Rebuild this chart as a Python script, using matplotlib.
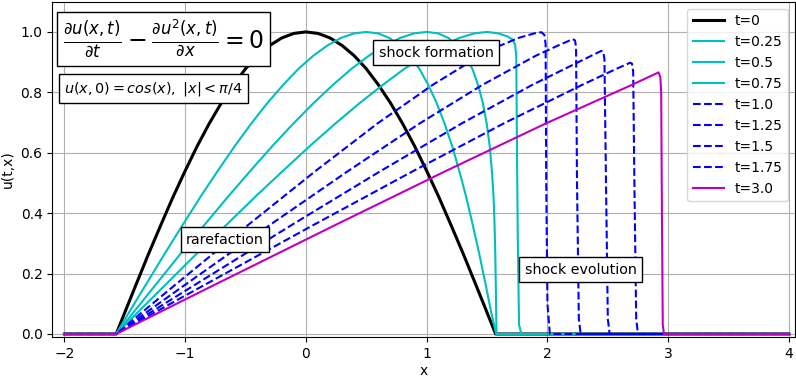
import matplotlib
matplotlib.use("Agg")
import matplotlib.pyplot as plt

# Values (profiles of u(t,x) at each time)
LABELS = ["t=0", "t=0.25", "t=0.5", "t=0.75", "t=1.0", "t=1.25", "t=1.5", "t=1.75", "t=3.0"]
COLORS = ["k", "c", "c", "c", "b", "b", "b", "b", "m"]
STYLES = ["-", "-", "-", "-", "--", "--", "--", "--", "-"]
WIDTHS = [2.2, 1.5, 1.5, 1.5, 1.5, 1.5, 1.5, 1.5, 1.5]

x_t0 = [-2.0, -1.571, -1.5, -1.4, -1.3, -1.2, -1.1, -1.0, -0.9, -0.8, -0.7, -0.6, -0.5, -0.4,
        -0.3, -0.2, -0.1, 0.0, 0.1, 0.2, 0.3, 0.4, 0.5, 0.6, 0.7, 0.8, 0.9, 1.0, 1.1, 1.2,
        1.3, 1.4, 1.5, 1.571, 4.0]
u_t0 = [0.0, 0.0, 0.071, 0.170, 0.268, 0.362, 0.454, 0.540, 0.622, 0.697, 0.765, 0.825, 0.878,
        0.921, 0.955, 0.980, 0.995, 1.0, 0.995, 0.980, 0.955, 0.921, 0.878, 0.825, 0.765,
        0.697, 0.622, 0.540, 0.454, 0.362, 0.268, 0.170, 0.071, 0.0, 0.0]

x_t025 = [-2.0, -1.571, -1.465, -1.315, -1.166, -1.019, -0.873, -0.730, -0.589, -0.452, -0.318,
          -0.187, -0.061, 0.061, 0.178, 0.290, 0.398, 0.5, 0.598, 0.690, 0.778, 0.861, 0.939,
          1.013, 1.082, 1.148, 1.211, 1.270, 1.327, 1.381, 1.434, 1.485, 1.535, 1.575, 4.0]
u_t025 = [0.0, 0.0, 0.071, 0.170, 0.268, 0.362, 0.454, 0.540, 0.622, 0.697, 0.765, 0.825, 0.878,
          0.921, 0.955, 0.980, 0.995, 1.0, 0.995, 0.980, 0.955, 0.921, 0.878, 0.825, 0.765,
          0.697, 0.622, 0.540, 0.454, 0.362, 0.268, 0.170, 0.071, 0.0, 0.0]

x_t05 = [-2.0, -1.571, -1.429, -1.230, -1.033, -0.838, -0.646, -0.460, -0.278, -0.103, 0.065,
         0.225, 0.378, 0.521, 0.655, 0.780, 0.895, 1.0, 1.095, 1.180, 1.255, 1.321, 1.378,
         1.425, 1.465, 1.497, 1.522, 1.540, 1.554, 1.562, 1.568, 1.572, 1.578, 4.0]
u_t05 = [0.0, 0.0, 0.071, 0.170, 0.268, 0.362, 0.454, 0.540, 0.622, 0.697, 0.765, 0.825, 0.878,
         0.921, 0.955, 0.980, 0.995, 1.0, 0.995, 0.980, 0.955, 0.921, 0.878, 0.825, 0.765,
         0.697, 0.622, 0.540, 0.454, 0.362, 0.268, 0.170, 0.0, 0.0]

x_t075 = [-2.0, -1.571, -1.394, -1.145, -0.899, -0.656, -0.420, -0.190, 0.032, 0.245, 0.447,
          0.638, 0.816, 0.982, 1.133, 1.270, 1.393, 1.5, 1.593, 1.670, 1.710, 1.732, 1.742,
          1.748, 1.755, 1.765, 1.785, 4.0]
u_t075 = [0.0, 0.0, 0.071, 0.170, 0.268, 0.362, 0.454, 0.540, 0.622, 0.697, 0.765, 0.825,
          0.878, 0.921, 0.955, 0.980, 0.995, 1.0, 0.995, 0.985, 0.975, 0.958, 0.92, 0.6, 0.3,
          0.03, 0.0, 0.0]

x_t10 = [-2.0, -1.571, -1.359, -1.060, -0.475, 0.081, 0.593, 1.051, 1.442, 1.611, 1.760, 1.890,
         1.950, 1.975, 1.985, 1.990, 2.000, 2.020, 4.0]
u_t10 = [0.0, 0.0, 0.071, 0.170, 0.362, 0.540, 0.697, 0.825, 0.921, 0.955, 0.980, 0.995,
         0.999, 0.99, 0.96, 0.5, 0.1, 0.0, 0.0]

x_t125 = [-2.0, -1.571, -1.323, -0.975, -0.294, 0.351, 0.942, 1.463, 1.903, 2.088, 2.210, 2.228,
          2.237, 2.245, 2.260, 2.275, 4.0]
u_t125 = [0.0, 0.0, 0.071, 0.170, 0.362, 0.540, 0.697, 0.825, 0.921, 0.955, 0.976, 0.972,
          0.95, 0.5, 0.05, 0.0, 0.0]

x_t15 = [-2.0, -1.571, -1.288, -0.890, -0.113, 0.621, 1.290, 1.876, 2.363, 2.445, 2.462, 2.472,
         2.485, 2.500, 2.515, 4.0]
u_t15 = [0.0, 0.0, 0.071, 0.170, 0.362, 0.540, 0.697, 0.825, 0.921, 0.937, 0.935, 0.91, 0.5,
         0.05, 0.0, 0.0]

x_t175 = [-2.0, -1.571, -1.253, -0.805, 0.068, 0.891, 1.638, 2.289, 2.572, 2.685, 2.700, 2.710,
          2.720, 2.735, 2.750, 4.0]
u_t175 = [0.0, 0.0, 0.071, 0.170, 0.362, 0.540, 0.697, 0.825, 0.878, 0.898, 0.895, 0.87, 0.5,
          0.05, 0.0, 0.0]

x_t30 = [-2.0, -1.571, -1.217, -0.720, 0.250, 1.161, 1.987, 2.701, 2.920, 2.935, 2.942, 2.948,
         2.955, 2.965, 4.0]
u_t30 = [0.0, 0.0, 0.071, 0.170, 0.362, 0.540, 0.697, 0.825, 0.866, 0.85, 0.8, 0.4, 0.03,
         0.0, 0.0]

XS = [x_t0, x_t025, x_t05, x_t075, x_t10, x_t125, x_t15, x_t175, x_t30]
US = [u_t0, u_t025, u_t05, u_t075, u_t10, u_t125, u_t15, u_t175, u_t30]

W, H = 796, 378


def main():
    fig = plt.figure(figsize=(W / 100, H / 100), dpi=100)
    # axes box placed to match the reference (pixels)
    left, right, top, bottom = 52.3, 795.0, 1.7, 337.0
    ax = fig.add_axes([left / W, 1 - bottom / H, (right - left) / W, (bottom - top) / H])

    for x, u, lab, col, ls, lw in zip(XS, US, LABELS, COLORS, STYLES, WIDTHS):
        ax.plot(x, u, color=col, linestyle=ls, linewidth=lw, label=lab)

    ax.set_xlim(-2.1, 4.05)
    ax.set_ylim(-0.01, 1.1)
    ax.set_xlabel("x", labelpad=2.5)
    ax.set_ylabel("u(t,x)")
    ax.grid(True)
    ax.legend(loc="upper right", handlelength=2.2)

    box = dict(facecolor="white", edgecolor="black")
    lbl_box = dict(boxstyle="square,pad=0.38", facecolor="white", edgecolor="black")
    ax.text(-1.18, 0.977,
            r"$\frac{\partial u(x,t)}{\partial t} - \frac{\partial u^2(x,t)}{\partial x} = 0$",
            fontsize=17, ha="center", va="center", bbox=box)
    ax.text(-1.263, 0.8116, r"$u(x,0) = cos(x),\ |x| < \pi/4$",
            fontsize=10.4, ha="center", va="center", bbox=box)
    ax.text(1.08, 0.931, "shock formation", fontsize=10.3, ha="center", va="center", bbox=lbl_box)
    ax.text(-0.67, 0.312, "rarefaction", fontsize=10.3, ha="center", va="center", bbox=lbl_box)
    ax.text(2.276, 0.213, "shock evolution", fontsize=10.3, ha="center", va="center", bbox=lbl_box)

    fig.savefig("out.png", dpi=100)


if __name__ == "__main__":
    main()
